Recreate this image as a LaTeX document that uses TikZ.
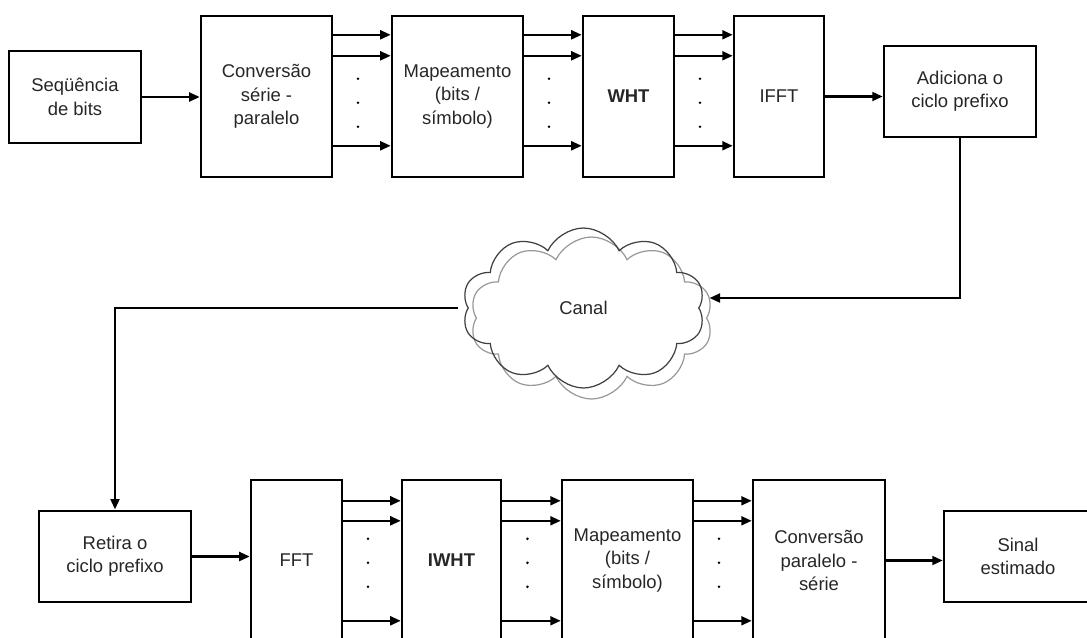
\documentclass[tikz,border=0pt]{standalone}
\usepackage{fontspec}
\setmainfont{Liberation Sans}
\usetikzlibrary{arrows.meta,calc,shapes.symbols}

\begin{document}
\begin{tikzpicture}[x=0.02cm, y=-0.02cm, font=\fontsize{10.5}{13.3}\selectfont, text=black!85]
	
	% Style for the boxes
	\tikzstyle{box}=[
	rectangle,
	draw,
	line width=1.4pt,
	inner sep=0pt,
	align=center
	]
	\tikzstyle{tall}=[box, minimum height=3.22cm]
	\tikzstyle{short}=[box, minimum height=1.83cm]
	\tikzstyle{arrow}=[-{Triangle[length=6pt,width=5pt]}, line width=1.4pt]
	\tikzstyle{puff}=[cloud, cloud puffs=10, cloud puff arc=130, cloud ignores aspect, line width=0.7pt]
	
	\clip (0,0) rectangle (1087,637);
	
	% --- First row ---
	\node[short, minimum width=2.64cm] (SEQ) at (75, 97) {Seqüência\\de bits};
	\node[tall, minimum width=2.62cm] (CSP) at (266.5, 96.5) {Conversão\\série -\\paralelo};
	\node[tall, minimum width=2.62cm] (MAPA) at (457.5, 96.5) {Mapeamento\\(bits /\\símbolo)};
	\node[tall, minimum width=1.82cm] (WHT) at (628.5, 96.5) {\textbf{WHT}};
	\node[tall, minimum width=1.8cm] (IFFT) at (779, 96.5) {IFFT};
	\node[short, minimum width=3.04cm] (ADD) at (960, 91.5) {Adiciona o\\ciclo prefixo};
	
	% Channel
	\node[puff, draw=black!40, minimum width=4.86cm, minimum height=3.24cm] (CANALSH) at (591.5, 318) {};
	\node[puff, draw=black!75, minimum width=4.86cm, minimum height=3.2cm] (CANAL) at (583.5, 308) {Canal};
	
	% --- Second row ---
	\node[short, minimum width=3.04cm] (RET) at (115, 556.5) {Retira o\\ciclo prefixo};
	\node[tall, minimum width=1.82cm] (FFT) at (296.5, 560.5) {FFT};
	\node[tall, minimum width=1.98cm] (IWHT) at (451.5, 560.5) {\textbf{IWHT}};
	\node[tall, minimum width=2.62cm] (MAPB) at (627.5, 560.5) {Mapeamento\\(bits /\\símbolo)};
	\node[tall, minimum width=2.64cm] (CPS) at (819, 560.5) {Conversão\\paralelo -\\série};
	\node[short, minimum width=2.96cm] (SIN) at (1018, 556.5) {Sinal\\estimado};
	
	% parallel lines, first row
	\foreach \a/\b in {CSP/MAPA, MAPA/WHT, WHT/IFFT} {
		\foreach \dy in {20,41,131}
			\draw[arrow] ($(\a.north east)+(0,\dy)$) -- ($(\b.north west)+(0,\dy)$);
		\foreach \dy in {64,88,112}
			\fill ($(\a.north east)!0.43!(\b.north west)+(0,\dy)$) circle (0.8pt);
	}
	% parallel lines, second row
	\foreach \a/\b in {FFT/IWHT, IWHT/MAPB, MAPB/CPS} {
		\foreach \dy in {22,42,142}
			\draw[arrow] ($(\a.north east)+(0,\dy)$) -- ($(\b.north west)+(0,\dy)$);
		\foreach \dy in {60,84,108}
			\fill ($(\a.north east)!0.43!(\b.north west)+(0,\dy)$) circle (0.8pt);
	}
	
	\draw[arrow] (SEQ.east) -- (SEQ.east -| CSP.west);
	\draw[arrow] (IFFT.east) -- (IFFT.east -| ADD.west);
	\draw[arrow] (ADD.south) |- ($(CANAL.east)+(10,-10)$);
	\draw[arrow] ($(CANAL.west)+(-10,0)$) -| (RET.north);
	\draw[arrow] (RET.east) -- (RET.east -| FFT.west);
	\draw[arrow] (CPS.east) -- (CPS.east -| SIN.west);
\end{tikzpicture}
\end{document}
